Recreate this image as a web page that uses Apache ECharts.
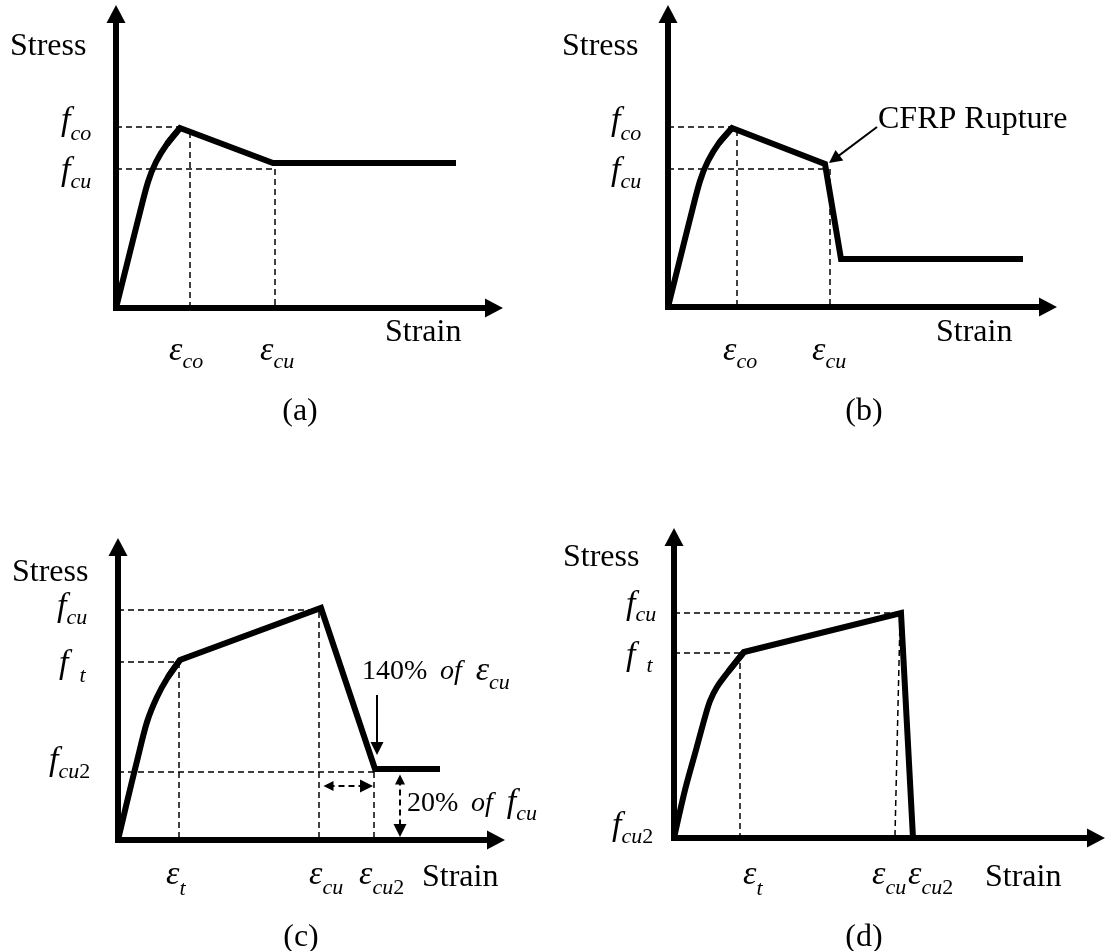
<!DOCTYPE html>
<html><head><meta charset="utf-8">
<script src="https://cdn.jsdelivr.net/npm/echarts@6/dist/echarts.min.js"></script>
<style>html,body{margin:0;padding:0;background:#fff}#c{width:1108px;height:951px}</style>
</head><body><div id="c"></div><script>
// ---------- data (strain, stress in arbitrary units) ----------
const curveA = [[0,0],[11,44],[22,88],[32,126],[40,146],[51,164],[64,180]];
const pathA = [[51,164],[64,180],[157,145],[340,145]];
const guidesA = [[[0,181],[64,181]],[[74,176],[74,0]],[[0,139],[159,139]],[[159,139],[159,0]]];
const yLabelsA = [['f','co'],['f','cu']];
const xLabelsA = [['ε','co'],['ε','cu']];

const curveB = [[0,0],[11,44],[22,88],[32,126],[40,146],[51,164],[64,179]];
const pathB = [[51,164],[64,179],[157,143],[173,48],[355,48]];
const guidesB = [[[0,180],[64,180]],[[69,177],[69,0]],[[0,138],[156,138]],[[162,138],[162,0]]];
const ruptureArrowB = [[209,180],[161,144]];
const yLabelsB = [['f','co'],['f','cu']];
const xLabelsB = [['ε','co'],['ε','cu']];

const curveC = [[0,0],[9,38],[19,79],[29,118],[39,143],[50,163],[62,180]];
const pathC = [[50,163],[62,180],[203,232],[257,71],[322,71]];
const guidesC = [[[0,230],[203,230]],[[201,228],[201,0]],[[0,178],[62,178]],[[61,178],[61,0]],[[0,68],[257,68]],[[256,68],[256,0]]];
const strainArrowC = [[259,145],[259,85]];
const spanArrowsC = [[[204,54],[255,54]],[[282,67],[282,3]]];
const yLabelsC = [['f','cu'],['f','  t'],['f','cu2']];
const xLabelsC = [['ε','t'],['ε','cu'],['ε','cu2']];

const curveD = [[0,0],[11,48],[22,88],[31,121],[36,137],[43,151],[54,166],[70,186]];
const pathD = [[54,166],[70,186],[227,225],[239,0]];
const guidesD = [[[0,225],[227,225]],[[0,185],[70,185]],[[66,185],[66,0]],[[226,218],[221,3]]];
const yLabelsD = [['f','cu'],['f','  t'],['f','cu2']];
const xLabelsD = [['ε','t'],['ε','cu'],['ε','cu2']];

const panelNames = ['(a)','(b)','(c)','(d)'];
const axisNames = ['Stress','Strain'];
const noteB = 'CFRP Rupture';

// ---------- layout ----------
const SERIF = '"Liberation Serif","Times New Roman",Times,serif';
const panels = [
  {ox:116, oy:308, xt:503, yt:5, curve:curveA, path:pathA, guides:guidesA},
  {ox:668, oy:307, xt:1057, yt:5, curve:curveB, path:pathB, guides:guidesB},
  {ox:118, oy:840, xt:505, yt:538, curve:curveC, path:pathC, guides:guidesC},
  {ox:674, oy:838, xt:1105, yt:528, curve:curveD, path:pathD, guides:guidesD}
];

const HEAD = 13; // arrowhead length (px = units here)
// pull segment ends inward so that the (centred) arrowhead tip lands on the end point
function tipFix(c, atStart) {
  const [x1,y1] = c[0], [x2,y2] = c[1];
  const L = Math.hypot(x2-x1, y2-y1), ux = (x2-x1)/L, uy = (y2-y1)/L, d = HEAD/2;
  const s = atStart ? [x1+ux*d, y1+uy*d] : [x1, y1];
  return [s, [x2-ux*d, y2-uy*d]];
}

const grids = [], xAxes = [], yAxes = [], series = [];
panels.forEach((p, i) => {
  grids.push({left:p.ox-3, top:p.yt+9, width:(p.xt-9)-(p.ox-3), height:(p.oy+3)-(p.yt+9)});
  const axisCommon = {
    type:'value', gridIndex:i, min:-3,
    axisLine:{show:true, onZero:true, symbol:['none','triangle'], symbolSize:[19,18], lineStyle:{color:'#000', width:6, cap:'butt'}},
    axisTick:{show:false}, axisLabel:{show:false}, splitLine:{show:false}
  };
  xAxes.push(Object.assign({}, axisCommon, {max:p.xt-9-p.ox}));
  yAxes.push(Object.assign({}, axisCommon, {max:p.oy-p.yt-9}));
  series.push({type:'lines', coordinateSystem:'cartesian2d', xAxisIndex:i, yAxisIndex:i, silent:true, z:1,
    symbol:'none', lineStyle:{color:'#000', width:1.5, type:[6,4], opacity:1, curveness:0},
    data:p.guides.map(g => ({coords:g}))});
  series.push({type:'line', xAxisIndex:i, yAxisIndex:i, data:p.curve, smooth:0.3, showSymbol:false, symbol:'none', silent:true, z:3,
    lineStyle:{color:'#000', width:6, cap:'butt', join:'round'}});
  series.push({type:'line', xAxisIndex:i, yAxisIndex:i, data:p.path, smooth:false, showSymbol:false, symbol:'none', silent:true, z:3,
    lineStyle:{color:'#000', width:6, cap:'butt', join:'miter', miterLimit:10}});
});
// annotation arrows
series.push({type:'lines', coordinateSystem:'cartesian2d', xAxisIndex:1, yAxisIndex:1, silent:true, z:4,
  symbol:['none','triangle'], symbolSize:[10,HEAD],
  lineStyle:{color:'#000', width:2, type:'solid', opacity:1, curveness:0}, data:[{coords:tipFix(ruptureArrowB,false)}]});
series.push({type:'lines', coordinateSystem:'cartesian2d', xAxisIndex:2, yAxisIndex:2, silent:true, z:4,
  symbol:['none','triangle'], symbolSize:[10,HEAD],
  lineStyle:{color:'#000', width:2, type:'solid', opacity:1, curveness:0}, data:[{coords:tipFix(strainArrowC,false)}]});
series.push({type:'lines', coordinateSystem:'cartesian2d', xAxisIndex:2, yAxisIndex:2, silent:true, z:4,
  symbol:['triangle','triangle'], symbolSize:[10,HEAD],
  lineStyle:{color:'#000', width:2, type:[6,4], opacity:1, curveness:0}, data:spanArrowsC.map(c => ({coords:tipFix(c,true)}))});

// ---------- text helpers ----------
const MS = 34, SS = 22;
function plainText(t, x, base, size, align) {
  size = size || 32;
  return {type:'text', x:x, y:base-0.3375*size, silent:true, z:10,
    style:{text:t, fontFamily:SERIF, fontSize:size, fill:'#000', textAlign:align||'left', align:align||'left', textVerticalAlign:'middle', verticalAlign:'middle'}};
}
function richStyles(P) {
  return {
    a:{fontFamily:SERIF, fontSize:28, lineHeight:50, fill:'#000', color:'#000'},
    i:{fontFamily:SERIF, fontStyle:'italic', fontSize:28, lineHeight:50, fill:'#000', color:'#000'},
    m:{fontFamily:SERIF, fontStyle:'italic', fontSize:MS, lineHeight:50, fill:'#000', color:'#000'},
    s:{fontFamily:SERIF, fontStyle:'italic', fontSize:SS, lineHeight:20, padding:[P,0,0,0], fill:'#000', color:'#000'},
    n:{fontFamily:SERIF, fontSize:SS, lineHeight:20, padding:[P,0,0,0], fill:'#000', color:'#000'}
  };
}
function padFor(drop) { return Math.min(29, 2*(drop + 0.3375*MS - 0.3375*SS)); }
function subText(parts, x, base, drop) {
  const mm = parts[1].match(/^(\D*)(\d*)$/);
  let txt = '{m|'+parts[0]+'}';
  if (mm[1]) txt += '{s|'+mm[1]+'}';
  if (mm[2]) txt += '{n|'+mm[2]+'}';
  return {type:'text', x:x, y:base-25-0.3375*MS, silent:true, z:10,
    style:{text:txt, fill:'#000', textAlign:'left', align:'left', textVerticalAlign:'top', verticalAlign:'top', rich:richStyles(padFor(drop))}};
}
function noteText(txt, x, base, drop) {
  return {type:'text', x:x, y:base-25-0.3375*28, silent:true, z:10,
    style:{text:txt, fill:'#000', textAlign:'left', align:'left', textVerticalAlign:'top', verticalAlign:'top', rich:richStyles(padFor(drop))}};
}

const g = [];
// panel a
g.push(plainText(axisNames[0], 10, 57), plainText(axisNames[1], 385, 343));
g.push(subText(yLabelsA[0], 61, 133, 9), subText(yLabelsA[1], 61, 183, 7));
g.push(subText(xLabelsA[0], 169, 363, 7), subText(xLabelsA[1], 260, 363, 7));
g.push(plainText(panelNames[0], 300, 422, 32, 'center'));
// panel b
g.push(plainText(axisNames[0], 562, 57), plainText(axisNames[1], 936, 343));
g.push(subText(yLabelsB[0], 611, 133, 9), subText(yLabelsB[1], 611, 183, 7));
g.push(subText(xLabelsB[0], 723, 363, 7), subText(xLabelsB[1], 812, 363, 7));
g.push(plainText(noteB, 878, 130, 32));
g.push(plainText(panelNames[1], 864, 422, 32, 'center'));
// panel c
g.push(plainText(axisNames[0], 12, 583), plainText(axisNames[1], 422, 888));
g.push(subText(yLabelsC[0], 57, 619, 7), subText(yLabelsC[1], 59, 676, 8), subText(yLabelsC[2], 49, 773, 7));
g.push(subText(xLabelsC[0], 166, 887, 10), subText(xLabelsC[1], 309, 887, 9), subText(xLabelsC[2], 359, 887, 9));
g.push(noteText('{a|140%\u2009 }{i|of}{a|  }{m|ε}{s|cu}', 362, 681, 8));
g.push(noteText('{a|20%\u2009 }{i|of}{a|  }{m|f}{s|cu}', 407, 813, 7));
g.push(plainText(panelNames[2], 301, 948, 32, 'center'));
// panel d
g.push(plainText(axisNames[0], 563, 568), plainText(axisNames[1], 985, 888));
g.push(subText(yLabelsD[0], 626, 617, 6), subText(yLabelsD[1], 626, 668, 6), subText(yLabelsD[2], 612, 838, 7));
g.push(subText(xLabelsD[0], 743, 887, 10), subText(xLabelsD[1], 872, 887, 9), subText(xLabelsD[2], 908, 887, 9));
g.push(plainText(panelNames[3], 864, 948, 32, 'center'));

const chart = echarts.init(document.getElementById('c'), null, {renderer:'canvas'});
chart.setOption({
  backgroundColor:'#fff',
  animation:false,
  grid:grids, xAxis:xAxes, yAxis:yAxes, series:series, graphic:g
});
</script></body></html>
